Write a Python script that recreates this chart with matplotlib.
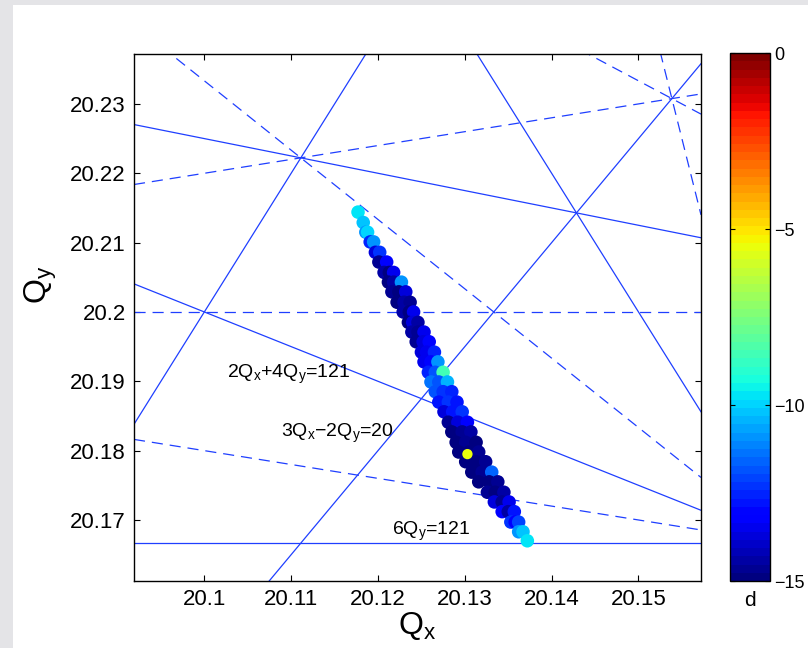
import numpy as np
import matplotlib
matplotlib.use("Agg")
import matplotlib.pyplot as plt
from matplotlib.patches import Rectangle

plt.rcParams['font.family'] = ['Liberation Sans', 'DejaVu Sans']
plt.rcParams['mathtext.fontset'] = 'custom'
plt.rcParams['mathtext.rm'] = 'Liberation Sans'
plt.rcParams['mathtext.it'] = 'Liberation Sans:italic'
plt.rcParams['lines.scale_dashes'] = False

# resonance lines  m*Qx + n*Qy = p
solid_m = [2, 3, 2, 1, 4, 0]
solid_n = [4, -2, -1, 4, 2, 6]
solid_p = [121, 20, 20, 101, 121, 121]
dashed_m = [0, 3, -1, 5, 2, 1]
dashed_n = [5, 3, 5, 1, 3, 5]
dashed_p = [101, 121, 81, 121, 101, 121]

labels = ["2Q$_\\mathrm{x}$+4Q$_\\mathrm{y}$=121",
          "3Q$_\\mathrm{x}$\u22122Q$_\\mathrm{y}$=20",
          "6Q$_\\mathrm{y}$=121"]
label_qx = [20.1026, 20.1088, 20.1216]
label_qy = [20.1905, 20.1820, 20.1679]

# tune footprint, read row by row
band_qy = [20.2144, 20.2129, 20.2115, 20.2101, 20.2086, 20.2072, 20.2057,
           20.2043, 20.2029, 20.2014, 20.2000, 20.1985, 20.1971, 20.1957,
           20.1942, 20.1928, 20.1913, 20.1899, 20.1885, 20.1870, 20.1856,
           20.1841, 20.1827, 20.1812, 20.1798, 20.1784, 20.1769, 20.1755,
           20.1740, 20.1726, 20.1712, 20.1697, 20.1683, 20.1670]
band_qx = [[20.1177], [20.1183], [20.1186, 20.1188], [20.1191, 20.1195],
           [20.1197, 20.1202], [20.1201, 20.1210],
           [20.1207, 20.1213, 20.1218], [20.1212, 20.1218, 20.1227],
           [20.1216, 20.1224, 20.1232], [20.1222, 20.1230, 20.1237],
           [20.1229, 20.1236, 20.1241], [20.1235, 20.1240, 20.1246],
           [20.1239, 20.1246, 20.1253], [20.1244, 20.1252, 20.1259],
           [20.1250, 20.1256, 20.1265], [20.1253, 20.1261, 20.1269],
           [20.1258, 20.1266, 20.1275], [20.1261, 20.1270, 20.1280],
           [20.1266, 20.1275, 20.1285], [20.1270, 20.1281, 20.1291],
           [20.1276, 20.1286, 20.1297], [20.1281, 20.1292, 20.1303],
           [20.1285, 20.1297, 20.1307], [20.1290, 20.1301, 20.1313],
           [20.1293, 20.1305, 20.1316], [20.1301, 20.1313, 20.1324],
           [20.1308, 20.1320, 20.1331], [20.1316, 20.1328, 20.1338],
           [20.1326, 20.1335, 20.1345], [20.1334, 20.1343, 20.1351],
           [20.1343, 20.1350, 20.1357], [20.1353, 20.1358, 20.1362],
           [20.1362, 20.1367], [20.1372]]
band_d = [[-9.8], [-10.3], [-10.8, -10.0], [-12.5, -11.0], [-13.8, -12.3],
          [-14.6, -13.3], [-14.3, -15.0, -13.5], [-15.0, -14.3, -10.8],
          [-14.6, -15.0, -13.8], [-15.0, -14.3, -14.6], [-14.3, -15.0, -13.5],
          [-15.0, -13.8, -14.3], [-14.3, -14.6, -13.5], [-14.6, -13.8, -13.0],
          [-13.8, -13.5, -12.5], [-13.5, -13.0, -11.0], [-12.5, -11.8, -8.5],
          [-11.3, -11.8, -10.5], [-11.8, -12.3, -12.5], [-12.8, -12.3, -12.8],
          [-13.8, -12.8, -12.3], [-14.6, -13.8, -13.3], [-15.0, -14.6, -14.3],
          [-15.0, -14.6, -15.0], [-15.0, -15.0, -14.6], [-15.0, -15.0, -14.6],
          [-15.0, -14.6, -11.5], [-15.0, -15.0, -14.6], [-14.6, -15.0, -14.3],
          [-13.8, -14.6, -13.5], [-13.3, -14.3, -12.8], [-12.3, -13.3, -12.0],
          [-10.8, -10.3], [-9.8]]

ref_qx, ref_qy, ref_d = 20.1303, 20.1795, -5.6

xlim = (20.0919, 20.1572)
ylim = (20.1612, 20.2372)
cmap = plt.get_cmap('jet', 64)
line_col = '#1f3fff'

fig = plt.figure(figsize=(8.08, 6.48), dpi=100)
fig.patch.set_facecolor('#e4e4e7')
fig.patches.append(Rectangle((13 / 808, 0), 1, 1 - 5 / 648, transform=fig.transFigure,
                             facecolor='white', edgecolor='none', zorder=-10))

ax = fig.add_axes([134 / 808, 67 / 648, 567 / 808, 527 / 648])
xs = np.array(xlim)
for m, n, p in zip(solid_m, solid_n, solid_p):
    ax.plot(xs, (p - m * xs) / n, color=line_col, lw=0.9)
for m, n, p in zip(dashed_m, dashed_n, dashed_p):
    ax.plot(xs, (p - m * xs) / n, color=line_col, lw=0.9, dashes=(8, 5))

qx, qy, dd = [], [], []
for y, row_x, row_d in zip(band_qy, band_qx, band_d):
    for x, d in zip(row_x, row_d):
        qx.append(x)
        qy.append(y)
        dd.append(d)
sc = ax.scatter(qx, qy, c=dd, cmap=cmap, vmin=-15, vmax=0, s=95,
                edgecolors='none', zorder=3)
ax.scatter([ref_qx], [ref_qy], c=[ref_d], cmap=cmap, vmin=-15, vmax=0, s=55,
           edgecolors='none', zorder=4)

for t, x, y in zip(labels, label_qx, label_qy):
    ax.text(x, y, t, fontsize=14, ha='left', va='baseline', zorder=5)

ax.set_xlim(xlim)
ax.set_ylim(ylim)
ax.set_xticks([20.10, 20.11, 20.12, 20.13, 20.14, 20.15])
ax.set_xticklabels(['20.1', '20.11', '20.12', '20.13', '20.14', '20.15'])
ax.set_yticks([20.17, 20.18, 20.19, 20.20, 20.21, 20.22, 20.23])
ax.set_yticklabels(['20.17', '20.18', '20.19', '20.2', '20.21', '20.22', '20.23'])
ax.tick_params(direction='in', top=True, right=True, length=4.5, width=0.8,
               labelsize=16, pad=6)
for s in ax.spines.values():
    s.set_linewidth(1.0)
ax.set_xlabel('Q$_\\mathrm{x}$', fontsize=23, labelpad=0)
fig.text(41 / 808, 1 - 285 / 648, 'Q$_\\mathrm{y}$', fontsize=23, rotation=90,
         ha='center', va='center')

cax = fig.add_axes([730 / 808, 67 / 648, 40 / 808, 528 / 648])
cb = fig.colorbar(sc, cax=cax, ticks=[0, -5, -10, -15])
cb.outline.set_linewidth(1.0)
cax.tick_params(direction='in', left=True, right=True, length=3.5, width=0.8,
                labelsize=13, pad=3)
fig.text(750 / 808, 1 - 600 / 648, 'd', fontsize=15, ha='center', va='center')

fig.savefig('out.png', dpi=100, facecolor=fig.get_facecolor())
